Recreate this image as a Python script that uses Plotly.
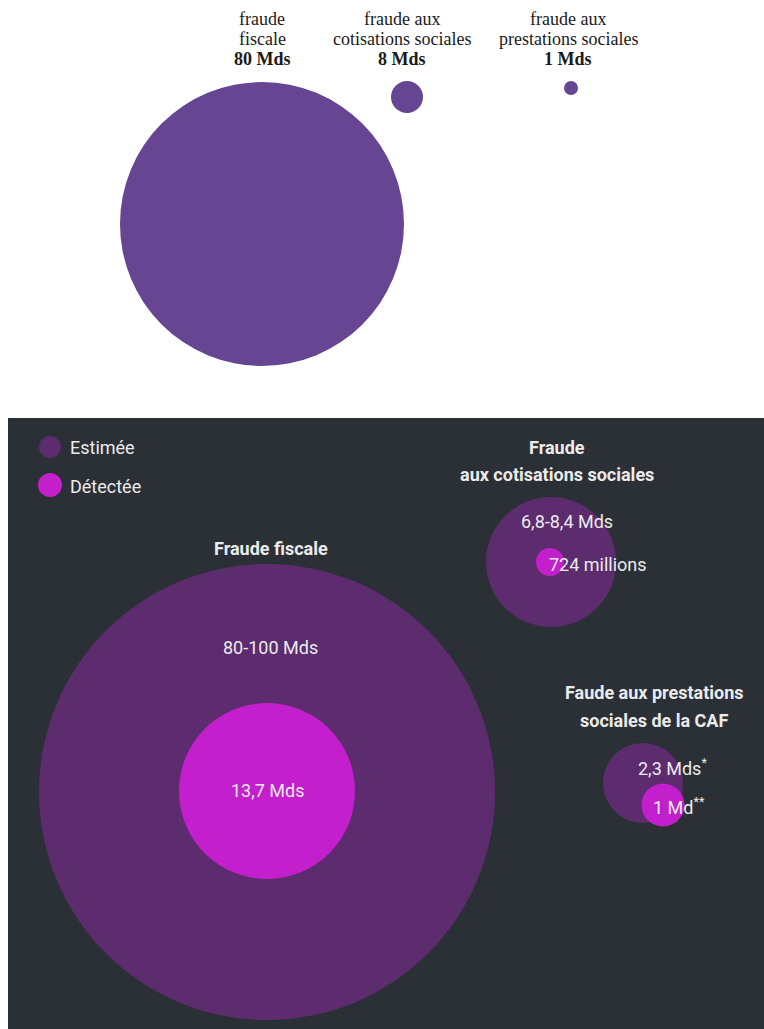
import plotly.graph_objects as go

# ---------------- data ----------------
top_categories = [["fraude", "fiscale"], ["fraude aux", "cotisations sociales"], ["fraude aux", "prestations sociales"]]
top_values = [80, 8, 1]  # Mds

bottom_categories = ["Fraude fiscale", "Fraude aux cotisations sociales", "Faude aux prestations sociales de la CAF"]
estimated_labels = ["80-100 Mds", "6,8-8,4 Mds", "2,3 Mds<sup>*</sup>"]
detected_labels = ["13,7 Mds", "724 millions", "1 Md<sup>**</sup>"]
legend_labels = ["Estimée", "Détectée"]

# ---------------- layout / styling (pixel-like coordinates) ----------------
W, H = 764, 1029
top_pos = [(262, 224), (407, 97), (571, 88)]
top_diam = [284, 32, 14]
top_label_x = [262, 402, 568]
top_line_y = [19, 39, 59]

est_pos = [(267, 792), (551, 562), (643, 783)]
est_diam = [456, 130, 80]
det_pos = [(267, 791), (550, 562), (663, 805)]
det_diam = [176, 28, 43]

TOP_COLOR = "#664592"
BG_DARK = "#2b3036"
EST_COLOR = "#5c2c6f"
DET_COLOR = "#c41fcc"
TXT = "#ebebeb"
SERIF = "Liberation Serif, DejaVu Serif, serif"
NARROW = "Roboto, sans-serif"

fig = go.Figure()

# top circles
fig.add_trace(go.Scatter(
    x=[p[0] for p in top_pos], y=[p[1] for p in top_pos], mode="markers",
    marker=dict(size=top_diam, color=TOP_COLOR, opacity=1, line=dict(width=0)),
    customdata=top_values, hoverinfo="skip", showlegend=False))

for cat, val, lx in zip(top_categories, top_values, top_label_x):
    lines = cat + [f"<b>{val} Mds</b>"]
    for line, ly in zip(lines, top_line_y):
        fig.add_annotation(x=lx, y=ly, xref="x", yref="y", xanchor="center", yanchor="middle",
                           text=line, showarrow=False,
                           font=dict(family=SERIF, size=18, color="#1a1a1a"))

# dark panel
fig.add_shape(type="rect", x0=8, x1=W, y0=418, y1=H, xref="x", yref="y",
              fillcolor=BG_DARK, line=dict(width=0), layer="below")

# estimated / detected bubbles
fig.add_trace(go.Scatter(
    x=[p[0] for p in est_pos], y=[p[1] for p in est_pos], mode="markers",
    marker=dict(size=est_diam, color=EST_COLOR, opacity=1, line=dict(width=0)),
    hoverinfo="skip", showlegend=False))
fig.add_trace(go.Scatter(
    x=[p[0] for p in det_pos], y=[p[1] for p in det_pos], mode="markers",
    marker=dict(size=det_diam, color=DET_COLOR, opacity=1, line=dict(width=0)),
    hoverinfo="skip", showlegend=False))

# legend
fig.add_trace(go.Scatter(
    x=[50, 50], y=[447, 485], mode="markers",
    marker=dict(size=[22, 24], color=[EST_COLOR, DET_COLOR], opacity=1, line=dict(width=0)),
    hoverinfo="skip", showlegend=False))
for lab, ly in zip(legend_labels, [447, 486]):
    fig.add_annotation(x=68, y=ly, xanchor="left", yanchor="middle", text=lab, showarrow=False,
                       font=dict(family=NARROW, size=18, color=TXT))

def txt(x, y, s, bold=False, size=18):
    fig.add_annotation(x=x, y=y, xanchor="center", yanchor="middle",
                       text=f"<b>{s}</b>" if bold else s, showarrow=False,
                       font=dict(family=NARROW, size=size, color=TXT))

# titles
txt(271, 548, bottom_categories[0], bold=True)
txt(557, 447, "Fraude", bold=True)
txt(557, 474, "aux cotisations sociales", bold=True)
txt(654, 692, "Faude aux prestations", bold=True)
txt(654, 720, "sociales de la CAF", bold=True)

# values
txt(270, 647, estimated_labels[0])
txt(268, 790, detected_labels[0])
txt(567, 521, estimated_labels[1])
txt(598, 564, detected_labels[1])
txt(672, 767, estimated_labels[2])
txt(679, 806, detected_labels[2])

fig.update_layout(
    width=W, height=H, margin=dict(l=0, r=0, t=0, b=0),
    paper_bgcolor="white", plot_bgcolor="white",
    xaxis=dict(range=[0, W], visible=False, fixedrange=True),
    yaxis=dict(range=[H, 0], visible=False, fixedrange=True),
)

fig.write_html("out.html", config={"displayModeBar": False},
               post_script="document.body.style.margin='0';document.body.style.overflow='hidden';")
